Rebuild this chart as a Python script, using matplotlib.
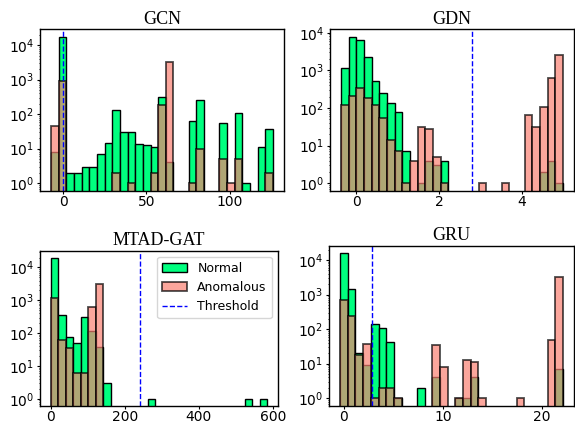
import numpy as np
import matplotlib
matplotlib.use("Agg")
import matplotlib.pyplot as plt

# ---------------- data ----------------
titles = ["GCN", "GDN", "MTAD-GAT", "GRU"]
n_bins = 29

gcn_range = (-7.2, 126.0)
gcn_normal = [8, 17500, 2, 2, 3, 3, 7, 15, 130, 30, 30, 14, 13, 11, 320, 4,
              0, 0, 62, 260, 0, 0, 54, 0, 110, 1, 0, 11, 37]
gcn_anom = [46, 900, 0, 0, 0, 0, 0, 0, 2, 0, 1, 0, 0, 2, 185, 3200,
            0, 0, 1, 10, 0, 0, 5, 1, 5, 0, 0, 0, 2]
gcn_thr = 0.0

gdn_range = (-0.369, 4.988)
gdn_normal = [1180, 7800, 6400, 2300, 520, 255, 136, 78, 7, 0, 1, 4, 3, 4,
              0, 0, 0, 0, 0, 0, 0, 0, 0, 0, 0, 0, 2, 4, 1]
gdn_anom = [117, 208, 333, 184, 123, 55, 14, 7, 1, 4, 31, 27, 5, 1,
            0, 0, 0, 0, 1, 0, 0, 1, 0, 0, 66, 31, 108, 640, 2500]
gdn_thr = 2.80

mtad_range = (0.0, 585.0)
mtad_normal = [20000, 350, 76, 50, 314, 117, 38, 3, 0, 0, 0, 0, 0, 1,
               0, 0, 0, 0, 0, 0, 0, 0, 0, 0, 0, 0, 1, 0, 1]
mtad_anom = [1200, 63, 36, 6, 6, 630, 3100, 0, 0, 0, 0, 0, 0, 0,
             0, 0, 0, 0, 0, 0, 0, 0, 0, 0, 0, 0, 0, 0, 0]
mtad_thr = 242.0

gru_range = (-0.34, 22.08)
gru_normal = [16300, 1450, 20, 9, 139, 110, 42, 1, 0, 0, 2, 0, 4, 0, 0, 1,
              1, 4, 0, 0, 0, 0, 0, 0, 0, 0, 0, 0, 7]
gru_anom = [718, 236, 18, 37, 1, 2, 2, 1, 0, 0, 0, 0, 35, 8, 0, 1,
            13, 11, 1, 0, 0, 0, 0, 1, 0, 0, 0, 50, 3140]
gru_thr = 2.85

xticks = [[0, 50, 100], [0, 2, 4], [0, 200, 400, 600], [0, 10, 20]]

panels = [
    (gcn_range, gcn_normal, gcn_anom, gcn_thr),
    (gdn_range, gdn_normal, gdn_anom, gdn_thr),
    (mtad_range, mtad_normal, mtad_anom, mtad_thr),
    (gru_range, gru_normal, gru_anom, gru_thr),
]

# ---------------- layout (pixel boxes: left, right, top, bottom) ----------------
W, H = 575, 425
boxes = [(40, 284, 29.5, 190.5), (330, 574, 29.5, 190.5),
         (40, 278, 250.5, 406), (329, 574, 245.5, 405.5)]

fig = plt.figure(figsize=(W / 100, H / 100), dpi=100)

green = "springgreen"
salmon = "salmon"

for i, (rng, nrm, anm, thr) in enumerate(panels):
    l, r, t, b = boxes[i]
    ax = fig.add_axes([l / W, 1 - b / H, (r - l) / W, (b - t) / H])
    edges = np.linspace(rng[0], rng[1], n_bins + 1)
    lefts = edges[:-1]
    ax.hist(lefts, bins=edges, weights=np.array(nrm, float), log=True,
            color=green, edgecolor="black", linewidth=1.0, label="Normal")
    ax.hist(lefts, bins=edges, weights=np.array(anm, float), log=True,
            color=salmon, edgecolor="black", alpha=0.7, linewidth=1.3,
            label="Anomalous")
    ax.axvline(thr, color="blue", linestyle="--", linewidth=1.0,
               label="Threshold")
    ax.set_xticks(xticks[i])
    ax.tick_params(axis="both", labelsize=10, length=2)
    ax.tick_params(axis="x", pad=1)
    ax.tick_params(axis="y", pad=2)
    ax.tick_params(axis="y", which="minor", length=1)
    ax.set_title(titles[i], fontsize=13, family="Liberation Serif", pad=4)
    for s in ax.spines.values():
        s.set_linewidth(1.0)
    if i == 2:
        ax.legend(loc="upper right", fontsize=9, framealpha=0.8,
                  borderpad=0.4, handlelength=2.0)

fig.savefig("out.png", dpi=100)
